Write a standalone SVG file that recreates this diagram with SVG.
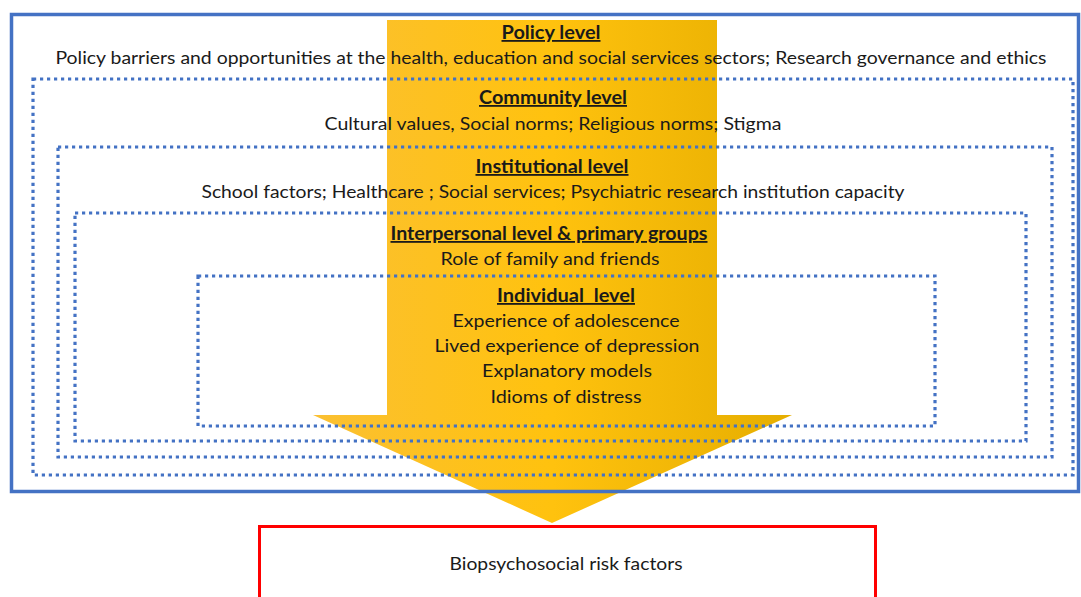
<svg xmlns="http://www.w3.org/2000/svg" width="1081" height="597" viewBox="0 0 1081 597">
<style>
.t{font-family:Lato,"Open Sans","Liberation Sans",sans-serif;font-size:18px;fill:#1a1a1a;text-anchor:middle}
.h{font-weight:bold;text-decoration:underline}
.dot{fill:none;stroke:#4472C4;stroke-width:3.2;stroke-dasharray:3.2 3.8}
</style>
<defs>
<linearGradient id="g" x1="0" y1="0" x2="1" y2="0">
<stop offset="0" stop-color="#FBC032"/>
<stop offset="0.5" stop-color="#FFC20E"/>
<stop offset="1" stop-color="#E6AE00"/>
</linearGradient>
</defs>
<rect width="1081" height="597" fill="#ffffff"/>
<g id="connectors">
<path d="M387,20 H717 V415 H792 L552,523 L313,415 H387 Z" fill="url(#g)"/>
</g>
<g id="policy">
<rect x="11.5" y="14.5" width="1067" height="477" fill="none" stroke="#4472C4" stroke-width="3.5"/>
<text class="t h" x="551" y="39" textLength="99" lengthAdjust="spacingAndGlyphs">Policy level</text>
<text class="t" x="551" y="64" textLength="991" lengthAdjust="spacingAndGlyphs">Policy barriers and opportunities at the health, education and social services sectors; Research governance and ethics</text>
</g>
<g id="community">
<rect class="dot" x="33" y="79" width="1040" height="396"/>
<text class="t h" x="553" y="104" textLength="148" lengthAdjust="spacingAndGlyphs">Community level</text>
<text class="t" x="553" y="130" textLength="457" lengthAdjust="spacingAndGlyphs">Cultural values, Social norms; Religious norms; Stigma</text>
</g>
<g id="institutional">
<rect class="dot" x="58" y="147" width="994" height="310"/>
<text class="t h" x="552" y="173" textLength="153" lengthAdjust="spacingAndGlyphs">Institutional level</text>
<text class="t" x="553" y="198" textLength="703" lengthAdjust="spacingAndGlyphs">School factors; Healthcare ; Social services; Psychiatric research institution capacity</text>
</g>
<g id="interpersonal">
<rect class="dot" x="75" y="213" width="951" height="228"/>
<text class="t h" x="549" y="240" textLength="317" lengthAdjust="spacingAndGlyphs">Interpersonal level &amp; primary groups</text>
<text class="t" x="550" y="265" textLength="219" lengthAdjust="spacingAndGlyphs">Role of family and friends</text>
</g>
<g id="individual">
<rect class="dot" x="198" y="276" width="737" height="150"/>
<text class="t h" x="566" y="302" textLength="138" lengthAdjust="spacingAndGlyphs" xml:space="preserve">Individual  level</text>
<text class="t" x="566" y="327" textLength="227" lengthAdjust="spacingAndGlyphs">Experience of adolescence</text>
<text class="t" x="567" y="352" textLength="265" lengthAdjust="spacingAndGlyphs">Lived experience of depression</text>
<text class="t" x="567" y="377" textLength="170" lengthAdjust="spacingAndGlyphs">Explanatory models</text>
<text class="t" x="566" y="403" textLength="151" lengthAdjust="spacingAndGlyphs">Idioms of distress</text>
</g>
<g id="outcome">
<rect x="259.5" y="526.5" width="616" height="80" fill="#ffffff" stroke="#FF0000" stroke-width="3"/>
<text class="t" x="566" y="570" textLength="233" lengthAdjust="spacingAndGlyphs">Biopsychosocial risk factors</text>
</g>
</svg>
